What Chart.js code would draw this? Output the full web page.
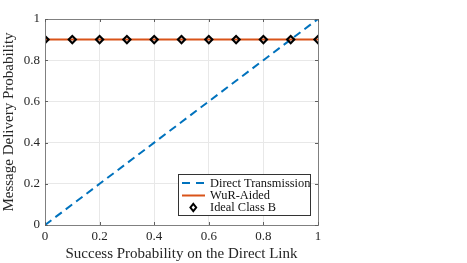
<!DOCTYPE html>
<html>
<head>
<meta charset="utf-8">
<script src="https://cdn.jsdelivr.net/npm/chart.js@4/dist/chart.umd.min.js"></script>
<style>
html,body{margin:0;padding:0;background:#fff;}
#wrap{width:467px;height:263px;position:relative;}
</style>
</head>
<body>
<div id="wrap"><canvas id="c" width="467" height="263"></canvas></div>
<script>
const xValues = [0, 0.1, 0.2, 0.3, 0.4, 0.5, 0.6, 0.7, 0.8, 0.9, 1];
const directTransmission = [0, 0.1, 0.2, 0.3, 0.4, 0.5, 0.6, 0.7, 0.8, 0.9, 1];
const wurAided = [0.9, 0.9, 0.9, 0.9, 0.9, 0.9, 0.9, 0.9, 0.9, 0.9, 0.9];
const idealClassB = [0.9, 0.9, 0.9, 0.9, 0.9, 0.9, 0.9, 0.9, 0.9, 0.9, 0.9];
const tickValues = [0, 0.2, 0.4, 0.6, 0.8, 1];
const seriesNames = ['Direct Transmission', 'WuR-Aided', 'Ideal Class B'];
const xTitle = 'Success Probability on the Direct Link';
const yTitle = 'Message Delivery Probability';

const FONT = '"Liberation Serif", "Times New Roman", serif';
const pts = (ys) => xValues.map((x, i) => ({x: x, y: ys[i]}));

const framePlugin = {
  id: 'frame',
  afterDraw(chart) {
    const {ctx, chartArea: a, scales} = chart;
    ctx.save();
    ctx.strokeStyle = '#808080';
    ctx.lineWidth = 1;
    ctx.strokeRect(Math.round(a.left) + 0.5, Math.round(a.top) + 0.5, Math.round(a.right - a.left), Math.round(a.bottom - a.top));
    ctx.strokeStyle = '#606060';
    tickValues.forEach(v => {
      const x = Math.round(scales.x.getPixelForValue(v)) + 0.5;
      ctx.beginPath(); ctx.moveTo(x, a.bottom); ctx.lineTo(x, a.bottom - 3); ctx.stroke();
      ctx.beginPath(); ctx.moveTo(x, a.top); ctx.lineTo(x, a.top + 3); ctx.stroke();
      const y = Math.round(scales.y.getPixelForValue(v)) + 0.5;
      ctx.beginPath(); ctx.moveTo(a.left, y); ctx.lineTo(a.left + 3, y); ctx.stroke();
      ctx.beginPath(); ctx.moveTo(a.right, y); ctx.lineTo(a.right - 3, y); ctx.stroke();
    });
    const lx = 178.5, ly = 174.5, lw = 132, lh = 41;
    ctx.fillStyle = '#fff';
    ctx.fillRect(lx, ly, lw, lh);
    ctx.strokeStyle = '#333';
    ctx.strokeRect(lx, ly, lw, lh);
    const ds = chart.data.datasets;
    ctx.font = '12.4px ' + FONT;
    ctx.textBaseline = 'middle';
    const rows = [183, 195.5, 207.5];
    ctx.strokeStyle = ds[0].borderColor; ctx.lineWidth = 2; ctx.setLineDash([8, 6]);
    ctx.beginPath(); ctx.moveTo(182, rows[0]); ctx.lineTo(204.5, rows[0]); ctx.stroke();
    ctx.setLineDash([]);
    ctx.strokeStyle = ds[1].borderColor;
    ctx.beginPath(); ctx.moveTo(182, rows[1]); ctx.lineTo(205, rows[1]); ctx.stroke();
    ctx.strokeStyle = '#000'; ctx.lineWidth = 2;
    const cx = 193.3, cy = rows[2], r = 3.6;
    ctx.beginPath(); ctx.moveTo(cx, cy - r); ctx.lineTo(cx + r * 0.8, cy); ctx.lineTo(cx, cy + r); ctx.lineTo(cx - r * 0.8, cy); ctx.closePath(); ctx.stroke();
    ctx.fillStyle = '#111';
    seriesNames.forEach((n, i) => ctx.fillText(n, 210, rows[i] + 0.5));
    ctx.restore();
  }
};

new Chart(document.getElementById('c'), {
  type: 'line',
  data: {
    datasets: [
      {label: seriesNames[0], data: pts(directTransmission), borderColor: '#0072BD', borderWidth: 2, borderDash: [8, 5], pointRadius: 0, fill: false, order: 3},
      {label: seriesNames[1], data: pts(wurAided), borderColor: '#D95319', borderWidth: 2, pointRadius: 0, fill: false, order: 2},
      {label: seriesNames[2], data: pts(idealClassB), showLine: false, borderColor: '#000', backgroundColor: 'rgba(0,0,0,0)', pointStyle: 'rectRot', pointRadius: 3.6, pointBorderWidth: 2.1, order: 1}
    ]
  },
  options: {
    responsive: false,
    animation: false,
    layout: {padding: {left: 0, right: 149, top: 19, bottom: 0}},
    plugins: {legend: {display: false}, tooltip: {enabled: false}},
    scales: {
      x: {
        type: 'linear', min: 0, max: 1,
        afterBuildTicks: (s) => { s.ticks = tickValues.map(v => ({value: v})); },
        afterFit: (s) => { s.height = 38; },
        grid: {color: '#e8e8e8', drawTicks: false},
        border: {display: false},
        ticks: {font: {family: FONT, size: 13}, color: '#262626', padding: 4, maxRotation: 0, callback: (v) => String(v)},
        title: {display: true, text: xTitle, font: {family: FONT, size: 15}, color: '#262626', padding: {top: 0, bottom: 0}}
      },
      y: {
        type: 'linear', min: 0, max: 1,
        afterBuildTicks: (s) => { s.ticks = tickValues.map(v => ({value: v})); },
        afterFit: (s) => { s.width = 45; },
        grid: {color: '#e8e8e8', drawTicks: false},
        border: {display: false},
        ticks: {font: {family: FONT, size: 13}, color: '#262626', padding: 5, callback: (v) => String(v)},
        title: {display: true, text: yTitle, font: {family: FONT, size: 15}, color: '#262626', padding: {top: 0, bottom: 1}}
      }
    }
  },
  plugins: [framePlugin]
});
</script>
</body>
</html>
